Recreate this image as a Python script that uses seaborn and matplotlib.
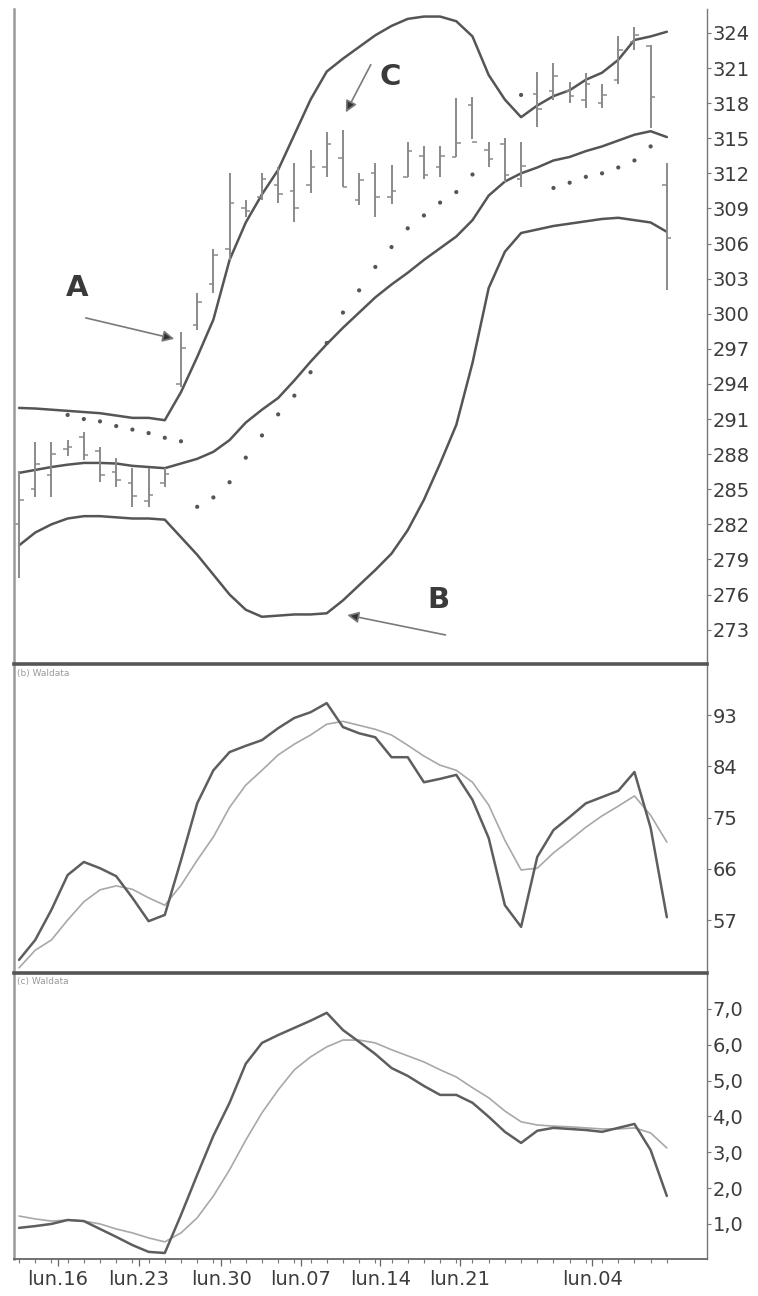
import numpy as np
import pandas as pd
import matplotlib.pyplot as plt
import seaborn as sns
from matplotlib.ticker import FixedLocator, FuncFormatter

# trading days (index of each session)
days = np.arange(41)

# price bars
high = [286.6, 289.0, 289.0, 289.2, 289.9, 288.6, 287.7, 286.8, 286.8, 286.8,
        298.4, 301.8, 305.5, 312.0, 309.7, 312.0, 312.5, 312.9, 314.0, 315.5,
        315.7, 312.0, 312.9, 312.7, 314.7, 314.3, 314.3, 318.4, 318.5, 314.7,
        315.0, 314.7, 320.7, 321.4, 319.8, 320.6, 319.6, 323.7, 324.5, 323.0,
        312.9]
low = [277.4, 284.3, 284.3, 287.8, 287.5, 285.6, 285.2, 283.5, 283.5, 285.2,
       293.7, 298.6, 301.8, 304.6, 308.3, 309.7, 309.5, 307.8, 310.3, 311.7,
       310.8, 309.3, 308.3, 309.4, 311.7, 311.5, 311.7, 313.4, 314.9, 312.5,
       311.3, 310.8, 316.0, 318.3, 318.0, 317.6, 317.6, 319.6, 322.5, 315.9,
       302.0]
open_ = [282.0, 285.0, 286.2, 288.4, 289.5, 288.3, 286.5, 285.5, 284.0, 285.5,
         294.0, 299.0, 302.5, 305.5, 309.0, 310.0, 311.0, 310.5, 311.0, 312.5,
         313.3, 309.7, 312.0, 310.0, 311.7, 313.5, 312.5, 313.4, 317.8, 314.0,
         314.5, 311.5, 318.8, 319.0, 319.0, 318.3, 318.0, 320.0, 323.2, 322.9,
         311.0]
close = [284.1, 287.2, 288.0, 288.6, 287.9, 286.2, 285.8, 284.4, 284.5, 286.3,
         297.1, 301.0, 305.0, 309.5, 308.8, 311.5, 310.2, 309.0, 312.5, 314.5,
         310.8, 311.4, 310.0, 310.5, 313.9, 311.9, 313.5, 314.6, 314.7, 313.2,
         311.9, 312.6, 317.5, 320.3, 318.6, 319.6, 318.7, 322.5, 323.8, 318.5,
         306.5]

# Bollinger bands
upper = [291.95, 291.9, 291.8, 291.7, 291.6, 291.5, 291.3, 291.1, 291.1, 290.9,
         293.3, 296.3, 299.5, 304.6, 307.8, 310.2, 312.3, 315.3, 318.3, 320.7,
         321.8, 322.8, 323.8, 324.6, 325.2, 325.4, 325.4, 325.0, 323.7, 320.4,
         318.3, 316.8, 317.8, 318.6, 319.1, 320.0, 320.6, 321.7, 323.4, 323.7,
         324.1]
middle = [286.4, 286.65, 286.9, 287.1, 287.25, 287.25, 287.2, 287.0, 286.9, 286.8,
          287.2, 287.6, 288.2, 289.2, 290.7, 291.8, 292.8, 294.3, 295.9, 297.4,
          298.8, 300.1, 301.4, 302.5, 303.5, 304.6, 305.6, 306.6, 308.0, 310.1,
          311.3, 312.0, 312.5, 313.1, 313.4, 313.9, 314.3, 314.8, 315.3, 315.6,
          315.1]
lower = [280.2, 281.3, 282.0, 282.5, 282.7, 282.7, 282.6, 282.5, 282.5, 282.4,
         280.9, 279.4, 277.7, 276.0, 274.7, 274.1, 274.2, 274.3, 274.3, 274.4,
         275.5, 276.8, 278.1, 279.5, 281.5, 284.1, 287.2, 290.5, 295.8, 302.2,
         305.3, 306.9, 307.2, 307.5, 307.7, 307.9, 308.1, 308.2, 308.0, 307.8,
         307.0]

# parabolic SAR dots (nan = hidden / not drawn)
sar = [np.nan, np.nan, np.nan, 291.35, 291.0, 290.8, 290.4, 290.1, 289.8, 289.4,
       289.1, 283.5, 284.3, 285.6, 287.7, 289.6, 291.4, 293.0, 295.0, 297.5,
       300.1, 302.0, 304.0, 305.7, 307.3, 308.4, 309.5, 310.4, 311.9, np.nan,
       np.nan, 318.7, np.nan, 310.75, 311.2, 311.7, 312.0, 312.5, 313.1, 314.3,
       np.nan]

# oscillator (b)
osc_b_fast = [50.0, 53.5, 58.8, 64.9, 67.2, 66.1, 64.7, 60.9, 56.8, 57.9,
              67.5, 77.5, 83.3, 86.5, 87.6, 88.6, 90.7, 92.5, 93.5, 95.1,
              90.9, 89.8, 89.1, 85.6, 85.6, 81.2, 81.8, 82.5, 78.1, 71.4,
              59.6, 55.8, 68.1, 72.8, 75.1, 77.5, 78.6, 79.7, 83.0, 73.2,
              57.5]
osc_b_slow = [48.6, 51.7, 53.5, 57.0, 60.2, 62.3, 63.0, 62.4, 60.9, 59.6,
              63.1, 67.5, 71.6, 76.8, 80.7, 83.3, 86.0, 87.9, 89.5, 91.4,
              91.9, 91.2, 90.5, 89.5, 87.7, 85.8, 84.2, 83.3, 81.2, 77.2,
              71.0, 65.8, 66.1, 68.8, 71.0, 73.3, 75.3, 77.0, 78.8, 75.4,
              70.7]

# oscillator (c)
osc_c_fast = [0.89, 0.94, 1.00, 1.11, 1.08, 0.86, 0.64, 0.41, 0.22, 0.19,
              1.25, 2.37, 3.46, 4.38, 5.47, 6.05, 6.27, 6.47, 6.67, 6.89,
              6.41, 6.08, 5.74, 5.35, 5.13, 4.85, 4.60, 4.60, 4.38, 3.99,
              3.57, 3.26, 3.60, 3.68, 3.65, 3.62, 3.57, 3.68, 3.79, 3.06,
              1.78]
osc_c_slow = [1.22, 1.14, 1.08, 1.11, 1.08, 1.00, 0.86, 0.75, 0.61, 0.50,
              0.75, 1.17, 1.78, 2.51, 3.34, 4.10, 4.74, 5.30, 5.66, 5.94,
              6.13, 6.13, 6.05, 5.86, 5.69, 5.52, 5.30, 5.10, 4.80, 4.52,
              4.15, 3.85, 3.76, 3.73, 3.71, 3.68, 3.65, 3.65, 3.68, 3.54,
              3.12]

# axis labels
price_ticks = [273, 276, 279, 282, 285, 288, 291, 294, 297, 300, 303, 306,
               309, 312, 315, 318, 321, 324]
osc_b_ticks = [57, 66, 75, 84, 93]
osc_c_ticks = [1, 2, 3, 4, 5, 6, 7]
date_labels = ["lun.16", "lun.23", "lun.30", "lun.07", "lun.14", "lun.21", "lun.04"]
date_pos = [2.4, 7.4, 12.5, 17.4, 22.3, 27.2, 35.4]

sns.set_theme(style="white")
plt.rcParams["font.family"] = ["DejaVu Sans"]

fig = plt.figure(figsize=(7.58, 12.96), dpi=100)
ax1 = fig.add_axes([0.0185, 0.4877, 0.914, 0.5054])
ax2 = fig.add_axes([0.0185, 0.2492, 0.914, 0.2384])
ax3 = fig.add_axes([0.0185, 0.0285, 0.914, 0.2207])

band_col = "#555555"
bar_col = "#8a8a8a"

# --- top panel: bars, bands, SAR
bands = pd.DataFrame({"day": days, "upper": upper, "middle": middle, "lower": lower})
for col in ["upper", "middle", "lower"]:
    sns.lineplot(data=bands, x="day", y=col, ax=ax1, color=band_col, lw=1.8)

d = days.astype(float)
ax1.vlines(d, low, high, color=bar_col, lw=1.4)
ax1.hlines(open_, d - 0.28, d, color=bar_col, lw=1.1)
ax1.hlines(close, d, d + 0.28, color=bar_col, lw=1.1)
sns.scatterplot(x=days, y=sar, ax=ax1, s=9, color="#555555", edgecolor="none")

arrow = dict(arrowstyle="-|>", ec="#7a7a7a", fc="#333333", lw=1.2, mutation_scale=17)
ax1.annotate("", xy=(9.75, 297.8), xytext=(3.95, 299.7), arrowprops=arrow)
ax1.annotate("", xy=(20.1, 274.3), xytext=(26.5, 272.5), arrowprops=arrow)
ax1.annotate("", xy=(20.1, 317.0), xytext=(21.8, 321.5), arrowprops=arrow)
for x, y, s in [(3.6, 302.2, "A"), (25.9, 275.5, "B"), (22.9, 320.2, "C")]:
    ax1.text(x, y, s, fontsize=21, fontweight="bold", color="#3a3a3a",
             ha="center", va="center")

ax1.set_ylim(270.07, 326.05)

# --- middle panel
osc_b = pd.DataFrame({"day": days, "fast": osc_b_fast, "slow": osc_b_slow})
sns.lineplot(data=osc_b, x="day", y="slow", ax=ax2, color="#a8a8a8", lw=1.2)
sns.lineplot(data=osc_b, x="day", y="fast", ax=ax2, color="#5e5e5e", lw=1.8)
ax2.set_ylim(47.69, 101.96)
ax2.text(0.004, 0.985, "(b) Waldata", transform=ax2.transAxes, fontsize=6.5,
         color="#9a9a9a", va="top")

# --- bottom panel
osc_c = pd.DataFrame({"day": days, "fast": osc_c_fast, "slow": osc_c_slow})
sns.lineplot(data=osc_c, x="day", y="slow", ax=ax3, color="#a8a8a8", lw=1.2)
sns.lineplot(data=osc_c, x="day", y="fast", ax=ax3, color="#5e5e5e", lw=1.8)
ax3.set_ylim(0.02, 8.0)
ax3.text(0.004, 0.985, "(c) Waldata", transform=ax3.transAxes, fontsize=6.5,
         color="#9a9a9a", va="top")

# --- shared styling
for ax, ticks in [(ax1, price_ticks), (ax2, osc_b_ticks), (ax3, osc_c_ticks)]:
    ax.set_xlim(-0.31, 42.47)
    ax.set_xlabel("")
    ax.set_ylabel("")
    ax.yaxis.tick_right()
    ax.set_yticks(ticks)
    ax.tick_params(axis="y", right=True, direction="out", length=3, width=0.8,
                   color="#777777", labelsize=14, labelcolor="#3c3c3c", pad=1)
    ax.spines["left"].set_color("#9a9a9a")
    ax.spines["left"].set_linewidth(1.8)
    ax.spines["right"].set_color("#777777")
    ax.spines["right"].set_linewidth(1.0)
    ax.spines["bottom"].set_visible(False)
    ax.patch.set_alpha(0)

ax1.spines["top"].set_visible(False)
for ax in (ax2, ax3):
    ax.spines["top"].set_color("#555555")
    ax.spines["top"].set_linewidth(2.6)
ax1.set_xticks([])
ax2.set_xticks([])

ax3.yaxis.set_major_formatter(FuncFormatter(lambda v, p: f"{v:.1f}".replace(".", ",")))
ax3.spines["bottom"].set_visible(True)
ax3.spines["bottom"].set_color("#666666")
ax3.spines["bottom"].set_linewidth(1.3)
ax3.set_xticks(date_pos)
ax3.set_xticklabels(date_labels)
ax3.xaxis.set_minor_locator(FixedLocator(days))
ax3.tick_params(axis="x", which="major", bottom=True, direction="out", length=5,
                width=0.9, color="#666666", labelsize=14, labelcolor="#3c3c3c", pad=3)
ax3.tick_params(axis="x", which="minor", bottom=True, direction="out", length=3,
                width=0.8, color="#777777")

fig.savefig("out.png", dpi=100, facecolor="white")
